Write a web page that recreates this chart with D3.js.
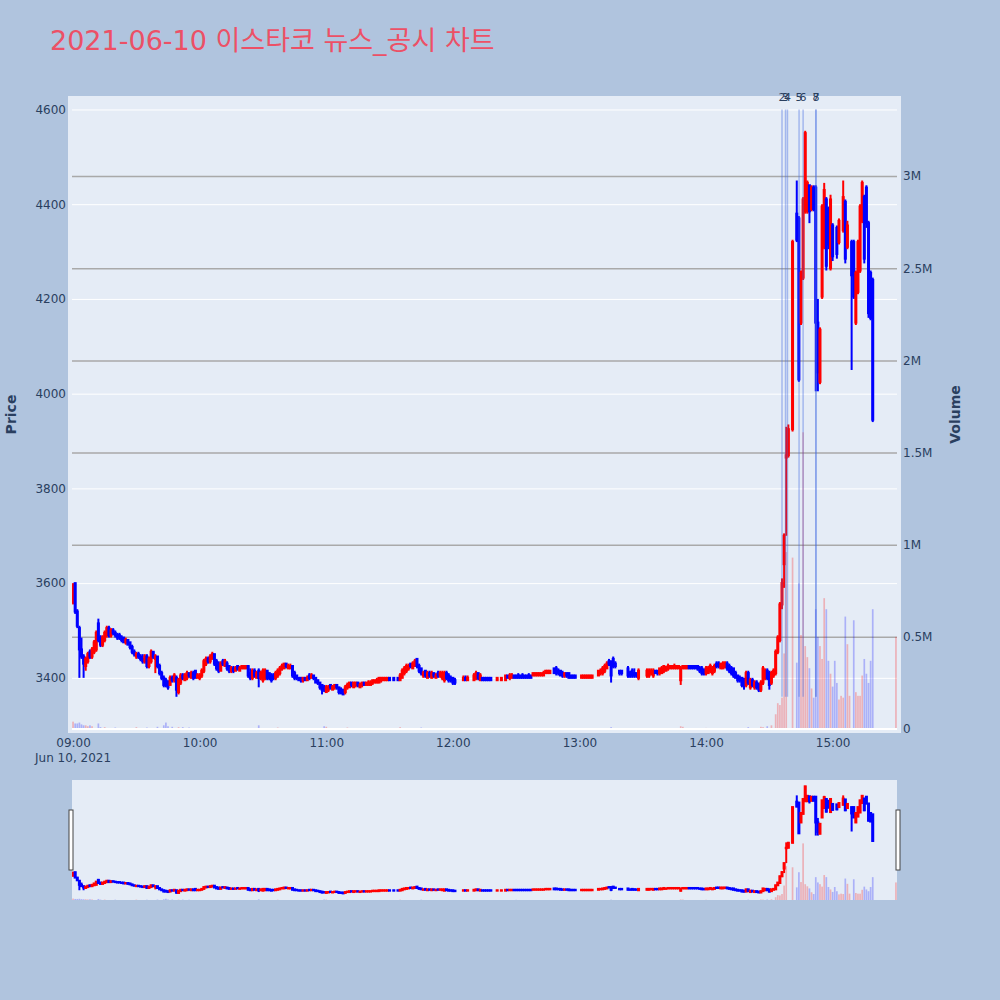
<!DOCTYPE html>
<html>
<head>
<meta charset="utf-8">
<script src="https://cdn.jsdelivr.net/npm/d3@7"></script>
<style>
  body { margin: 0; background: #b0c4de; }
  text { font-family: "DejaVu Sans", "Noto Sans CJK KR", sans-serif; }
</style>
</head>
<body>
<div id="chart"></div>
<script>
// ---- data (minute after 09:00, open, high, low, close) ----
const chartTitle = "2021-06-10 이스타코 뉴스_공시 차트";

const openingCandles = [
  [0,3560,3600,3555,3595],[1,3600,3600,3535,3540],[2,3540,3545,3505,3510],[3,3505,3510,3400,3460],
  [4,3460,3485,3440,3445],[5,3445,3450,3400,3430],[6,3425,3445,3415,3440],[7,3435,3455,3430,3450],
  [8,3455,3460,3440,3445],[9,3445,3465,3440,3460],[10,3455,3480,3450,3475],[11,3460,3500,3455,3495],
  [12,3515,3525,3475,3480],[13,3485,3490,3465,3470],[14,3470,3490,3465,3485],[15,3480,3500,3475,3495],
  [16,3490,3510,3485,3505],[17,3505,3510,3485,3490],[18,3490,3505,3485,3500],[19,3500,3505,3490,3495],
  [20,3495,3500,3485,3490],[21,3490,3495,3480,3485],[22,3490,3495,3480,3485],[23,3485,3490,3475,3480],
  [24,3485,3485,3475,3475],[25,3475,3485,3470,3480],[26,3480,3480,3470,3470],[27,3475,3475,3460,3465],
  [28,3465,3470,3450,3455],[29,3455,3460,3445,3450],[30,3445,3455,3440,3450],[31,3450,3455,3440,3445],
  [32,3445,3450,3435,3440],[33,3440,3450,3430,3435],[34,3435,3450,3430,3445],[35,3445,3450,3420,3425],
  [36,3425,3445,3420,3440],[37,3435,3460,3430,3455],[38,3455,3455,3440,3445],[39,3440,3450,3410,3445],
  [40,3445,3445,3420,3425],[41,3425,3430,3405,3410],[42,3410,3415,3395,3400],[43,3400,3405,3380,3385],
  [44,3395,3400,3380,3385],[45,3390,3395,3375,3380],[46,3385,3405,3385,3400],[47,3400,3405,3390,3395],
  [48,3395,3410,3390,3405],[49,3400,3405,3360,3375],[50,3370,3400,3365,3395],[51,3390,3410,3385,3405],
  [52,3405,3410,3395,3400],[53,3395,3410,3395,3405],[54,3400,3415,3395,3410],[55,3410,3410,3400,3405],
  [56,3400,3415,3400,3410],[57,3410,3415,3395,3400],[58,3415,3415,3400,3400],[59,3400,3410,3400,3405]
];

const lateMorningCandles = [
  [60,3400,3410,3395,3405],[61,3405,3420,3400,3415],[62,3415,3440,3410,3435],[63,3430,3445,3425,3440],
  [64,3440,3445,3430,3435],[65,3435,3450,3430,3445],[66,3440,3455,3440,3450],[67,3450,3450,3425,3430],
  [68,3435,3440,3415,3420],[69,3430,3435,3410,3415],[70,3415,3435,3415,3430],[71,3435,3440,3425,3430],
  [72,3425,3440,3425,3435],[73,3430,3435,3415,3420],[74,3425,3425,3410,3415],[75,3415,3425,3410,3420],
  [76,3420,3425,3410,3415],[77,3415,3425,3415,3420],[78,3425,3425,3415,3420],[79,3415,3425,3415,3420],
  [80,3420,3425,3420,3425],[81,3420,3425,3420,3425],[82,3420,3425,3420,3425],[83,3425,3425,3400,3405],
  [84,3410,3420,3395,3400],[85,3400,3420,3395,3415],[86,3415,3420,3400,3405],[87,3400,3415,3400,3410],
  [88,3415,3420,3380,3400],[89,3400,3415,3395,3410],[90,3395,3420,3390,3415],[91,3400,3420,3395,3415],
  [92,3415,3415,3395,3400],[93,3410,3410,3395,3400],[94,3405,3410,3390,3395],[95,3405,3410,3395,3400],
  [96,3400,3415,3395,3410],[97,3405,3420,3400,3415],[98,3410,3425,3405,3420],[99,3420,3430,3415,3425],
  [100,3420,3430,3420,3430],[101,3430,3430,3420,3425],[102,3420,3430,3420,3425],[103,3420,3430,3420,3425],
  [104,3425,3425,3400,3405],[105,3410,3415,3395,3400],[106,3405,3405,3395,3400],[107,3400,3400,3395,3395],
  [108,3400,3400,3390,3395],[109,3395,3400,3390,3400],[110,3400,3400,3395,3395],[111,3395,3405,3395,3400],
  [112,3405,3410,3395,3400],[113,3400,3410,3400,3405],[114,3405,3405,3395,3400],[115,3400,3400,3390,3390],
  [116,3395,3395,3385,3390],[117,3390,3390,3375,3380],[118,3385,3385,3365,3375],[119,3380,3385,3370,3375],
  [120,3370,3385,3370,3380],[121,3375,3385,3370,3380],[122,3385,3385,3375,3380],[123,3375,3385,3375,3380],
  [124,3380,3385,3375,3385],[125,3385,3385,3375,3380],[126,3380,3380,3365,3370],[127,3375,3380,3365,3370],
  [128,3375,3375,3365,3365],[129,3370,3385,3365,3380],[130,3380,3390,3375,3385],[131,3380,3390,3380,3390],
  [132,3390,3390,3380,3385],[133,3380,3390,3380,3390],[134,3385,3390,3380,3390],[135,3390,3390,3380,3385],
  [136,3380,3390,3380,3385],[137,3385,3390,3380,3390],[138,3390,3390,3385,3385],[139,3385,3390,3385,3390],
  [140,3385,3395,3385,3390],[141,3385,3395,3385,3390],[142,3390,3395,3385,3395],[143,3390,3395,3390,3395],
  [144,3390,3400,3390,3395],[145,3390,3400,3390,3400],[146,3395,3400,3390,3400],[147,3395,3400,3395,3400],
  [148,3395,3400,3395,3400],[149,3395,3400,3395,3400],[150,3400,3400,3395,3395],[152,3400,3400,3395,3395],
  [154,3400,3400,3395,3395],[155,3395,3410,3395,3405],[156,3400,3420,3400,3415],[157,3410,3425,3405,3420],
  [158,3415,3430,3410,3425],[159,3420,3430,3415,3425],[160,3430,3430,3420,3425],[161,3420,3435,3420,3430],
  [162,3425,3440,3425,3435],[163,3440,3440,3420,3425],[164,3425,3430,3410,3415],[165,3420,3420,3405,3410],
  [166,3405,3415,3400,3410],[167,3415,3415,3400,3405],[168,3400,3415,3400,3410],[169,3410,3415,3400,3405],
  [170,3400,3415,3400,3410],[171,3410,3410,3400,3405],[172,3400,3410,3400,3405],[173,3410,3415,3400,3405],
  [174,3405,3415,3400,3410],[175,3400,3415,3395,3410],[176,3395,3415,3390,3410],[177,3410,3415,3395,3400],
  [178,3405,3410,3390,3395],[179,3400,3405,3390,3395]
];

const afternoonCandles = [
  [180,3400,3400,3385,3390],[181,3395,3400,3385,3390],[185,3395,3405,3395,3400],[186,3400,3405,3395,3395],
  [187,3395,3405,3395,3400],[190,3395,3410,3395,3405],[191,3400,3415,3395,3410],[192,3410,3410,3395,3400],
  [193,3395,3410,3395,3405],[194,3400,3400,3395,3395],[195,3400,3400,3395,3395],[196,3400,3400,3395,3395],
  [197,3400,3400,3395,3395],[198,3400,3400,3395,3395],[201,3395,3400,3395,3400],[203,3395,3400,3395,3400],
  [205,3395,3405,3395,3405],[206,3405,3405,3400,3400],[207,3400,3410,3395,3405],[208,3400,3410,3400,3405],
  [209,3405,3405,3400,3400],[210,3405,3405,3400,3400],[211,3405,3410,3400,3400],[212,3405,3405,3400,3400],
  [213,3405,3410,3400,3400],[214,3405,3405,3400,3400],[215,3405,3405,3400,3400],[216,3405,3410,3400,3400],
  [217,3405,3405,3400,3400],[218,3405,3410,3405,3410],[219,3405,3410,3405,3410],[220,3405,3410,3405,3410],
  [221,3405,3410,3405,3410],[222,3405,3410,3405,3410],[223,3405,3415,3405,3410],[224,3410,3415,3410,3415],
  [225,3410,3415,3410,3415],[226,3410,3415,3410,3415],[228,3420,3420,3410,3410],[229,3420,3425,3405,3410],
  [230,3415,3420,3405,3410],[231,3415,3415,3405,3405],[232,3410,3415,3400,3405],[233,3405,3410,3400,3410],
  [234,3410,3410,3400,3405],[235,3410,3410,3400,3400],[236,3405,3405,3400,3400],[237,3405,3405,3400,3400],
  [238,3405,3405,3400,3400],[241,3400,3405,3400,3405],[242,3400,3405,3400,3405],[243,3400,3405,3400,3405],
  [244,3400,3405,3400,3405],[245,3400,3405,3400,3405],[246,3400,3405,3400,3405],[249,3405,3415,3405,3415],
  [250,3410,3420,3405,3415],[251,3410,3425,3405,3420],[252,3415,3430,3410,3425],[253,3420,3435,3420,3430],
  [254,3435,3440,3425,3430],[255,3435,3435,3390,3405],[256,3440,3445,3420,3425],[257,3430,3435,3420,3425],
  [259,3415,3415,3405,3410],[260,3415,3415,3405,3410],[263,3420,3425,3400,3405],[264,3410,3415,3400,3405],
  [265,3415,3420,3400,3405],[266,3410,3420,3400,3405],[267,3410,3410,3400,3405],[268,3400,3420,3395,3415],
  [272,3405,3420,3400,3415],[273,3405,3420,3400,3415],[274,3410,3420,3405,3415],[275,3405,3420,3400,3415],
  [276,3415,3415,3410,3410],[277,3415,3415,3405,3410],[278,3410,3420,3405,3420],[279,3410,3425,3410,3420],
  [280,3415,3425,3410,3425],[281,3415,3425,3415,3420],[282,3420,3430,3415,3425],[283,3420,3425,3420,3425],
  [284,3420,3425,3420,3425],[285,3420,3430,3420,3425],[286,3420,3425,3420,3425],[287,3420,3425,3420,3425],
  [288,3395,3425,3385,3420],[289,3420,3425,3420,3425],[290,3420,3425,3420,3425],[291,3420,3425,3420,3425],
  [292,3425,3425,3420,3420],[293,3425,3425,3420,3420],[294,3425,3425,3420,3420],[295,3425,3425,3420,3420],
  [296,3425,3425,3415,3420],[297,3420,3425,3410,3415],[298,3420,3425,3405,3410],[299,3415,3420,3405,3410],
  [300,3410,3425,3405,3420],[301,3410,3425,3410,3420],[302,3415,3430,3410,3425],[303,3410,3425,3405,3420],
  [304,3415,3430,3410,3425],[305,3430,3435,3420,3425],[306,3430,3435,3420,3425],[307,3420,3430,3420,3430],
  [308,3420,3435,3420,3430],[309,3425,3435,3420,3430],[310,3430,3435,3415,3420],[311,3425,3430,3410,3415],
  [312,3420,3425,3405,3410],[313,3420,3420,3400,3405],[314,3410,3415,3400,3400],[315,3405,3405,3390,3395],
  [316,3400,3405,3390,3395],[317,3400,3400,3380,3385],[318,3395,3400,3375,3385],[319,3385,3415,3380,3410],
  [320,3410,3415,3385,3390],[321,3380,3400,3375,3395],[322,3395,3400,3380,3385],[323,3380,3395,3375,3390],
  [324,3390,3395,3375,3380],[325,3385,3390,3370,3375],[326,3375,3395,3370,3390],[327,3390,3425,3385,3420],
  [328,3400,3420,3395,3415],[329,3415,3420,3395,3400]
];

const surgeCandles = [
  [330,3410,3415,3375,3385],[331,3390,3415,3385,3410],[332,3405,3420,3400,3415],[333,3410,3460,3405,3455],
  [334,3455,3490,3450,3485],[335,3480,3560,3475,3555],[336,3555,3610,3545,3600],[337,3640,3705,3590,3700],
  [338,3865,3930,3700,3870],[339,3870,3935,3865,3925],[341,3925,4325,3920,4320],[343,4380,4450,4320,4325],
  [344,4370,4375,4025,4030],[345,4150,4260,4145,4255],[346,4245,4415,4240,4410],[347,4385,4555,4380,4550],
  [348,4385,4450,4380,4445],[349,4440,4440,4360,4385],[350,4390,4440,4385,4435],[351,4435,4440,4385,4390],
  [352,4435,4440,4005,4150],[353,4150,4200,4005,4045],[354,4025,4140,4020,4135],[355,4205,4400,4200,4395],
  [356,4310,4445,4305,4430],[357,4410,4415,4260,4270],[358,4390,4395,4305,4315],[359,4265,4420,4260,4410],
  [360,4355,4360,4280,4290],[362,4350,4355,4285,4295],[363,4320,4370,4315,4365],[365,4345,4450,4340,4415],
  [366,4405,4410,4275,4285],[367,4310,4365,4305,4355],[369,4320,4325,4050,4250],[370,4320,4325,4200,4205],
  [371,4150,4260,4145,4255],[372,4215,4325,4210,4320],[373,4260,4400,4255,4395],[374,4365,4450,4360,4445],
  [375,4415,4420,4275,4285],[376,4435,4440,4350,4360],[377,4360,4365,4160,4170],[378,4255,4260,4155,4160],
  [379,4240,4245,3940,3945],[390,4140,4140,4140,4140]
];

// [minute after 09:00, shares]
const volumeRows = [
  [0,40000],[1,30000],[2,30000],[3,35000],[4,25000],[5,20000],[6,20000],[7,15000],[8,20000],[9,15000],
  [12,30000],[13,10000],[15,10000],[20,8000],[30,10000],[35,8000],[40,12000],[43,20000],[44,35000],
  [45,15000],[47,12000],[50,10000],[52,10000],[55,8000],[88,20000],[97,8000],[119,15000],[120,12000],
  [130,8000],[155,10000],[165,8000],[210,5000],[255,10000],[288,15000],[289,12000],[300,6000],[320,10000],
  [326,12000],[327,10000],[329,15000],[331,20000],
  [333,80000],[334,140000],[335,130000],[336,170000],[337,410000],[338,960000],[341,930000],[343,360000],
  [344,790000],[345,510000],[346,1610000],[347,450000],[348,390000],[349,330000],[350,220000],[351,170000],
  [352,650000],[353,500000],[354,450000],[355,380000],[356,710000],[357,650000],[358,370000],[359,300000],
  [360,230000],[361,370000],[362,250000],[363,160000],[364,180000],[365,170000],[366,610000],[367,460000],
  [368,180000],[370,590000],[371,200000],[372,180000],[373,180000],[374,290000],[375,380000],[376,300000],
  [377,250000],[378,370000],[379,650000],[390,500000]
];

const newsTimes = ["14:36:00", "14:37:40", "14:38:35", "14:44:05", "14:46:00", "14:52:05", "14:52:05"];
const newsLabels = ["2", "3", "4", "5", "6", "7", "8"];
const newsPriceSpan = [3360, 4600];

const priceTicks = [3400, 3600, 3800, 4000, 4200, 4400, 4600];
const volumeTicks = [0, 500000, 1000000, 1500000, 2000000, 2500000, 3000000];
const volumeTickLabels = ["0", "0.5M", "1M", "1.5M", "2M", "2.5M", "3M"];
const hourTicks = ["09:00", "10:00", "11:00", "12:00", "13:00", "14:00", "15:00"];
const dateLabel = "Jun 10, 2021";

// ---- layout ----
const W = 1000, H = 1000;
const plot = { left: 72, right: 897, top: 100, bottom: 729 };
const rs = { top: 780, bottom: 900 };
const upColor = "#ff0000", downColor = "#0000ff";
const tickColor = "#2a3f5f";

const base = new Date(2021, 5, 10, 9, 0, 0);
const atMinute = m => new Date(base.getTime() + m * 60000);
const parseClock = s => {
  const [h, mi, se] = s.split(":").map(Number);
  return (h - 9) * 60 + mi + (se || 0) / 60;
};

const candles = [].concat(openingCandles, lateMorningCandles, afternoonCandles, surgeCandles)
  .map(([m, o, h, l, c]) => ({ m, t: atMinute(m), o, h, l, c }));

// direction: close vs open, ties fall back on previous close
let prevClose = null, prevUp = true;
candles.forEach(d => {
  let up;
  if (d.c > d.o) up = true;
  else if (d.c < d.o) up = false;
  else if (prevClose !== null && d.c !== prevClose) up = d.c > prevClose;
  else up = prevUp;
  d.up = up; prevUp = up; prevClose = d.c;
});

const volumes = volumeRows.map(([m, v]) => {
  const prev = candles.filter(d => d.m <= m);
  return { m, t: atMinute(m), v, up: prev.length ? prev[prev.length - 1].up : true };
});

const x = d3.scaleTime().domain([atMinute(-0.5), atMinute(390.5)]).range([plot.left, plot.right]);
const priceDomain = [3292, 4620];
const volDomain = [0, 3413000];
const yPrice = d3.scaleLinear().domain(priceDomain).range([plot.bottom, plot.top]);
const yVol = d3.scaleLinear().domain(volDomain).range([plot.bottom, plot.top]);
const yPriceRs = d3.scaleLinear().domain(priceDomain).range([rs.bottom, rs.top]);
const yVolRs = d3.scaleLinear().domain(volDomain).range([rs.bottom, rs.top]);

const svg = d3.select("#chart").append("svg")
  .attr("width", W).attr("height", H);

svg.append("rect").attr("width", W).attr("height", H).attr("fill", "#b0c4de");

// plot background
svg.append("rect")
  .attr("x", plot.left - 4).attr("y", plot.top - 4)
  .attr("width", plot.right - plot.left + 8).attr("height", plot.bottom - plot.top + 8)
  .attr("fill", "#e5ecf6");

const defs = svg.append("defs");
defs.append("clipPath").attr("id", "clip-main").append("rect")
  .attr("x", plot.left).attr("y", plot.top)
  .attr("width", plot.right - plot.left).attr("height", plot.bottom - plot.top);
defs.append("clipPath").attr("id", "clip-rs").append("rect")
  .attr("x", plot.left).attr("y", rs.top)
  .attr("width", plot.right - plot.left).attr("height", rs.bottom - rs.top);

// price gridlines (white)
svg.append("g")
  .attr("transform", `translate(${plot.left},0)`)
  .call(d3.axisLeft(yPrice).tickValues(priceTicks).tickSize(-(plot.right - plot.left)).tickFormat(""))
  .call(g => g.select(".domain").remove())
  .call(g => g.selectAll("line").attr("stroke", "#ffffff").attr("stroke-width", 1));

// volume gridlines (gray)
svg.append("g")
  .attr("transform", `translate(${plot.left},0)`)
  .call(d3.axisLeft(yVol).tickValues(volumeTicks.slice(1)).tickSize(-(plot.right - plot.left)).tickFormat(""))
  .call(g => g.select(".domain").remove())
  .call(g => g.selectAll("line").attr("stroke", "#a9a9a9").attr("stroke-width", 1.5));

function drawCandles(layer, yScale) {
  const g = layer.selectAll("g.candle").data(candles).enter().append("g").attr("class", "candle");
  g.append("line")
    .attr("x1", d => x(d.t)).attr("x2", d => x(d.t))
    .attr("y1", d => yScale(d.h)).attr("y2", d => yScale(d.l))
    .attr("stroke", d => d.up ? upColor : downColor).attr("stroke-width", 2);
  g.append("rect")
    .attr("x", d => x(d.t) - 0.5).attr("width", 1)
    .attr("y", d => yScale(Math.max(d.o, d.c)))
    .attr("height", d => Math.abs(yScale(d.o) - yScale(d.c)))
    .attr("fill", d => d.up ? upColor : downColor)
    .attr("stroke", d => d.up ? upColor : downColor).attr("stroke-width", 2);
}

function drawVolumes(layer, yScale) {
  const bw = (x(atMinute(1)) - x(atMinute(0))) * 0.8;
  layer.selectAll("rect.vol").data(volumes).enter().append("rect").attr("class", "vol")
    .attr("x", d => x(d.t) - bw / 2).attr("width", bw)
    .attr("y", d => yScale(d.v)).attr("height", d => yScale(0) - yScale(d.v))
    .attr("fill", d => d.up ? upColor : downColor).attr("opacity", 0.25);
}

const main = svg.append("g").attr("clip-path", "url(#clip-main)");
drawCandles(main.append("g"), yPrice);
drawVolumes(main.append("g"), yVol);

// volume zero line
svg.append("line")
  .attr("x1", plot.left).attr("x2", plot.right)
  .attr("y1", yVol(0)).attr("y2", yVol(0))
  .attr("stroke", "#ffffff").attr("stroke-width", 2);

// news markers
const news = newsTimes.map((s, i) => ({ t: atMinute(parseClock(s)), label: newsLabels[i] }));
svg.append("g").selectAll("line").data(news).enter().append("line")
  .attr("x1", d => x(d.t)).attr("x2", d => x(d.t))
  .attr("y1", yPrice(newsPriceSpan[1])).attr("y2", yPrice(newsPriceSpan[0]))
  .attr("stroke", "royalblue").attr("stroke-opacity", 0.4).attr("stroke-width", 1.5);
svg.append("g").selectAll("text").data(news).enter().append("text")
  .attr("x", d => x(d.t)).attr("y", yPrice(newsPriceSpan[1]) - 8)
  .attr("text-anchor", "middle").attr("font-size", 11).attr("fill", tickColor)
  .text(d => d.label);

// axes
svg.append("g")
  .attr("transform", `translate(0,${plot.bottom})`)
  .call(d3.axisBottom(x).tickValues(hourTicks.map(s => atMinute(parseClock(s))))
    .tickFormat(d3.timeFormat("%H:%M")).tickSize(0).tickPadding(9))
  .call(g => g.select(".domain").remove())
  .call(g => g.selectAll("text").attr("font-size", 12).attr("fill", tickColor)
    .style("font-family", "'DejaVu Sans', sans-serif"));

svg.append("text")
  .attr("x", x(atMinute(0))).attr("y", 762)
  .attr("text-anchor", "middle").attr("font-size", 12).attr("fill", tickColor)
  .text(dateLabel);

svg.append("g")
  .attr("transform", `translate(${plot.left},0)`)
  .call(d3.axisLeft(yPrice).tickValues(priceTicks).tickFormat(d3.format("d")).tickSize(0).tickPadding(6))
  .call(g => g.select(".domain").remove())
  .call(g => g.selectAll("text").attr("font-size", 12).attr("fill", tickColor)
    .style("font-family", "'DejaVu Sans', sans-serif"));

svg.append("g")
  .attr("transform", `translate(${plot.right},0)`)
  .call(d3.axisRight(yVol).tickValues(volumeTicks).tickFormat((d, i) => volumeTickLabels[i]).tickSize(0).tickPadding(6))
  .call(g => g.select(".domain").remove())
  .call(g => g.selectAll("text").attr("font-size", 12).attr("fill", tickColor)
    .style("font-family", "'DejaVu Sans', sans-serif"));

svg.append("text")
  .attr("transform", `translate(16,${(plot.top + plot.bottom) / 2}) rotate(-90)`)
  .attr("text-anchor", "middle").attr("font-size", 14).attr("font-weight", "bold")
  .attr("fill", tickColor).text("Price");
svg.append("text")
  .attr("transform", `translate(960,${(plot.top + plot.bottom) / 2}) rotate(-90)`)
  .attr("text-anchor", "middle").attr("font-size", 14).attr("font-weight", "bold")
  .attr("fill", tickColor).text("Volume");

// title
svg.append("text")
  .attr("x", 50).attr("y", 50)
  .attr("font-size", 27).attr("fill", "#ec5066")
  .text(chartTitle);

// range slider
svg.append("rect")
  .attr("x", plot.left).attr("y", rs.top)
  .attr("width", plot.right - plot.left).attr("height", rs.bottom - rs.top)
  .attr("fill", "#e5ecf6");
const rsLayer = svg.append("g").attr("clip-path", "url(#clip-rs)");
drawCandles(rsLayer.append("g"), yPriceRs);
drawVolumes(rsLayer.append("g"), yVolRs);

const handleY = rs.top + (rs.bottom - rs.top) / 4;
[plot.left - 1, plot.right + 1].forEach(hx => {
  svg.append("rect")
    .attr("x", hx - 2).attr("y", handleY)
    .attr("width", 4).attr("height", (rs.bottom - rs.top) / 2)
    .attr("fill", "#ffffff").attr("stroke", "#444").attr("stroke-width", 1);
});
</script>
</body>
</html>
